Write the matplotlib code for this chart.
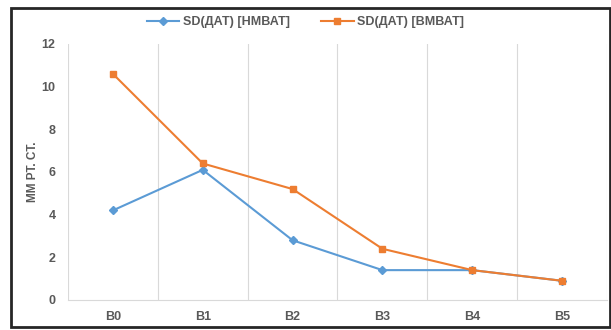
import matplotlib.pyplot as plt
import matplotlib.patches as patches
import numpy as np

plt.rcParams['font.family'] = ['Liberation Sans', 'DejaVu Sans']

categories = ['B0', 'B1', 'B2', 'B3', 'B4', 'B5']
sd_nmvat = [4.2, 6.1, 2.8, 1.4, 1.4, 0.9]
sd_vmvat = [10.6, 6.4, 5.2, 2.4, 1.4, 0.9]
yticks = [0, 2, 4, 6, 8, 10, 12]

txt = '#595959'
fig = plt.figure(figsize=(6.11, 3.30), dpi=100)
ax = fig.add_axes([68/611, 30/330, 539/611, 256/330])

x = np.arange(len(categories))
ax.plot(x, sd_nmvat, color='#5B9BD5', lw=1.5, marker='D', ms=4, label='SD(ДАТ) [НМВАТ]', zorder=3)
ax.plot(x, sd_vmvat, color='#ED7D31', lw=1.5, marker='s', ms=5, label='SD(ДАТ) [ВМВАТ]', zorder=3)

ax.set_xlim(-0.5, len(categories) - 0.5)
ax.set_ylim(0, 12)
ax.set_xticks(x)
ax.set_xticklabels(categories)
ax.set_yticks(yticks)
ax.set_xticks(np.arange(-0.5, len(categories)), minor=True)
ax.grid(which='minor', axis='x', color='#D9D9D9', lw=0.8)
ax.tick_params(which='both', length=0)
ax.tick_params(axis='x', pad=8)
ax.tick_params(axis='y', pad=9)
for lab in ax.get_xticklabels() + ax.get_yticklabels():
    lab.set_fontsize(9)
    lab.set_fontweight('bold')
    lab.set_color(txt)
for s in ['top', 'right', 'left']:
    ax.spines[s].set_visible(False)
ax.spines['bottom'].set_color('#D9D9D9')

ax.set_ylabel('MM PT. CT.', fontsize=8.5, fontweight='bold', color=txt, labelpad=2)

leg = fig.legend(loc='center', bbox_to_anchor=(0.5, 1 - 22/330), ncol=2, frameon=False,
                 fontsize=9, handlelength=2.6, columnspacing=2.5, handletextpad=0.3)
for t in leg.get_texts():
    t.set_color(txt)
    t.set_fontweight('bold')

# dark frame around the whole chart
fig.patches.append(patches.Rectangle((11/611, 3/330), 599/611, 319/330, transform=fig.transFigure,
                                     fill=False, edgecolor='#262626', lw=2))

fig.savefig('out.png', dpi=100)
